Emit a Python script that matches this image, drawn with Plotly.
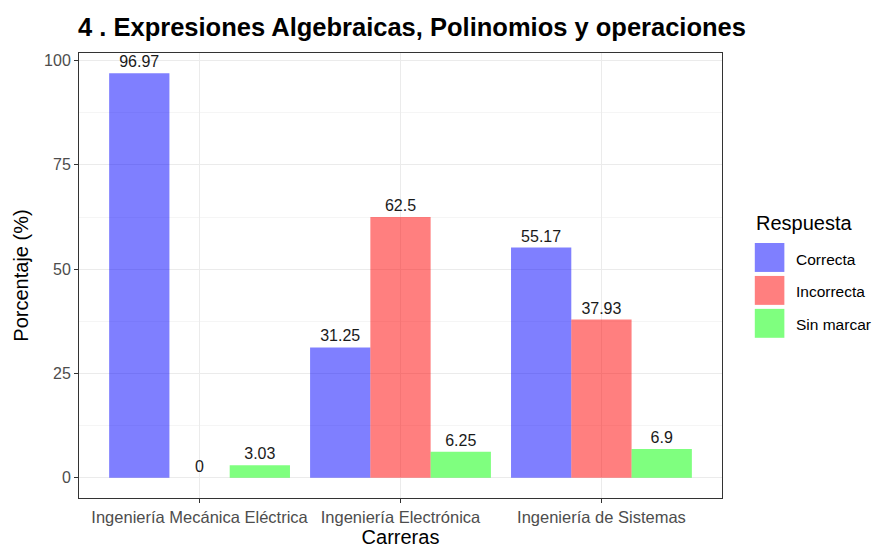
import plotly.graph_objects as go

carreras = ["Ingeniería Mecánica Eléctrica", "Ingeniería Electrónica", "Ingeniería de Sistemas"]
respuestas = ["Correcta", "Incorrecta", "Sin marcar"]
correcta = [96.97, 31.25, 55.17]
incorrecta = [0, 62.5, 37.93]
sin_marcar = [3.03, 6.25, 6.9]
valores = [correcta, incorrecta, sin_marcar]
colores = ["rgba(0,0,255,0.5)", "rgba(255,0,0,0.5)", "rgba(0,255,0,0.5)"]
y_ticks = [0, 25, 50, 75, 100]

FONT = "Liberation Sans, Arial, sans-serif"

fig = go.Figure()
for name, vals, col in zip(respuestas, valores, colores):
    fig.add_trace(go.Bar(
        x=carreras, y=vals, name=name, marker=dict(color=col, line=dict(width=0)),
        text=[f"{v:g}" for v in vals], textposition="outside", cliponaxis=False,
        textfont=dict(size=16, color="#1a1a1a", family=FONT),
        showlegend=False,
    ))

fig.update_layout(
    width=882, height=550,
    paper_bgcolor="white", plot_bgcolor="white",
    margin=dict(l=68, r=168, t=45, b=60),
    barmode="group", bargap=0.1, bargroupgap=0,
    font=dict(family=FONT, color="#000000"),
    title=dict(text="<b>4 . Expresiones Algebraicas, Polinomios y operaciones</b>",
               x=70 / 882, xanchor="left", y=1 - 19 / 550, yanchor="middle",
               font=dict(size=25.5, color="#000000")),
    xaxis=dict(
        title=dict(text="Carreras", font=dict(size=20), standoff=4),
        range=[-0.6, 2.6], showgrid=True, gridcolor="#ebebeb", gridwidth=1,
        ticks="outside", ticklen=4, tickcolor="#333333",
        tickfont=dict(size=16.5, color="#4d4d4d"),
        showline=True, linecolor="#333333", linewidth=1, mirror=True, zeroline=False,
    ),
    yaxis=dict(
        title=dict(text="Porcentaje (%)", font=dict(size=20), standoff=10),
        range=[-4.85, 101.82], tickvals=y_ticks, showgrid=True, gridcolor="#ebebeb",
        ticks="outside", ticklen=4, tickcolor="#333333",
        tickfont=dict(size=16, color="#4d4d4d"),
        minor=dict(tickvals=[12.5, 37.5, 62.5, 87.5], showgrid=True, gridcolor="#f5f5f5", ticks=""),
        showline=True, linecolor="#333333", linewidth=1, mirror=True, zeroline=False,
    ),
)

# manual legend (ggplot-style large keys), paper coords relative to plot area
fig.add_annotation(text="Respuesta", xref="paper", yref="paper", x=1.049, y=0.618,
                   xanchor="left", yanchor="middle", showarrow=False,
                   font=dict(size=20, color="#000000"))
key_y = [(0.508, 0.573), (0.434, 0.499), (0.360, 0.425)]
text_y = [0.537, 0.463, 0.389]
for name, col, (y0, y1), ty in zip(respuestas, colores, key_y, text_y):
    fig.add_shape(type="rect", xref="paper", yref="paper",
                  x0=1.051, x1=1.097, y0=y0, y1=y1,
                  fillcolor=col, line=dict(width=0))
    fig.add_annotation(text=name, xref="paper", yref="paper", x=1.112, y=ty,
                       xanchor="left", yanchor="middle", showarrow=False,
                       font=dict(size=15.5, color="#000000"))

fig.write_html("out.html")
